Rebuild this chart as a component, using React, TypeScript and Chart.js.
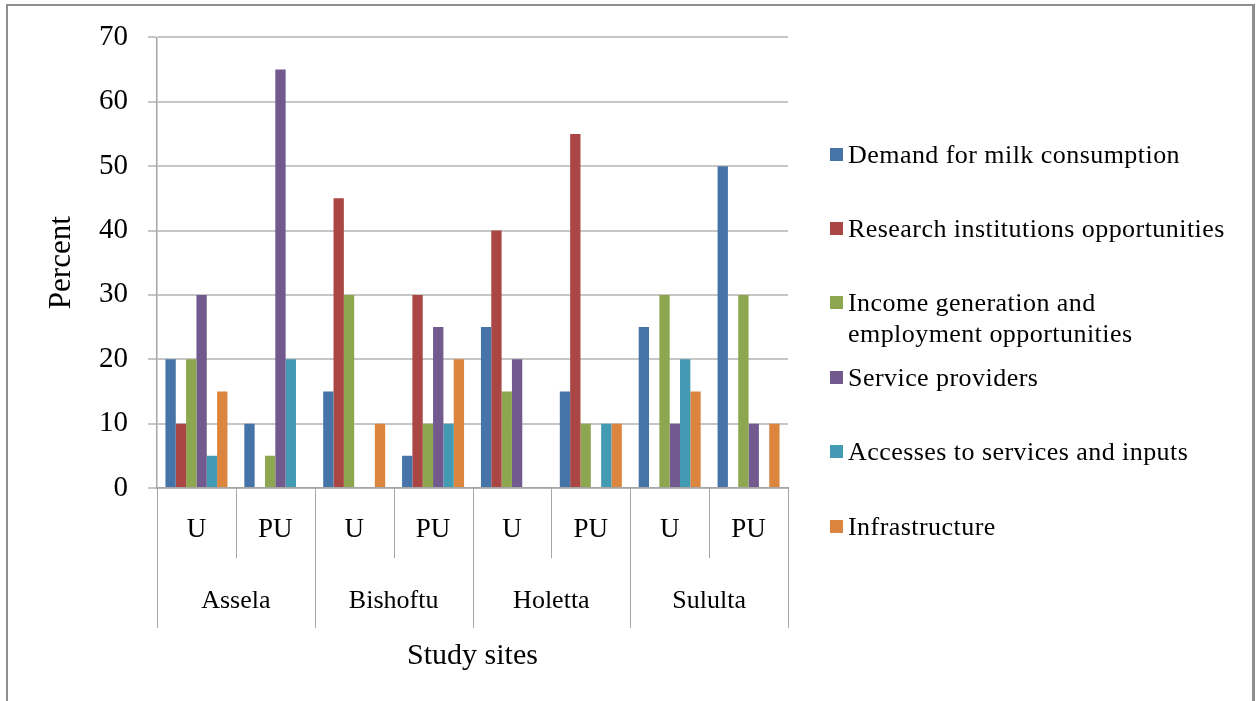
import React, { useEffect, useRef } from "react";
import { Chart, registerables } from "chart.js";

Chart.register(...registerables);

const categories = ["U", "PU", "U", "PU", "U", "PU", "U", "PU"];
const groups = ["Assela", "Bishoftu", "Holetta", "Sululta"];
const seriesNames = [
  "Demand for milk consumption",
  "Research institutions opportunities",
  "Income generation and\nemployment opportunities",
  "Service providers",
  "Accesses to services and inputs",
  "Infrastructure",
];
const demand = [20, 10, 15, 5, 25, 15, 25, 50];
const research = [10, 0, 45, 30, 40, 55, 0, 0];
const income = [20, 5, 30, 10, 15, 10, 30, 30];
const service = [30, 65, 0, 25, 20, 0, 10, 10];
const access = [5, 20, 0, 10, 0, 10, 20, 0];
const infra = [15, 0, 10, 20, 0, 10, 15, 10];
const seriesColors = ["#4674A8", "#AA4744", "#8CA74F", "#725A8F", "#439BB3", "#DC853F"];
const yMin = 0;
const yMax = 70;
const yStep = 10;
const xTitle = "Study sites";
const yTitle = "Percent";

const SERIF = "'Liberation Serif', 'Times New Roman', serif";

const decorPlugin = {
  id: "decor",
  afterDraw(chart: any) {
    const ctx = chart.ctx;
    const x = chart.scales.x;
    const area = chart.chartArea;
    const n = categories.length;
    const w = (x.right - x.left) / n;
    ctx.save();
    ctx.strokeStyle = "#A6A6A6";
    ctx.lineWidth = 1;
    for (let i = 0; i <= n; i++) {
      const px = Math.round(x.left + i * w) + 0.5;
      const end = i % 2 === 0 ? area.bottom + 140 : area.bottom + 70;
      ctx.beginPath();
      ctx.moveTo(px, area.bottom);
      ctx.lineTo(px, end);
      ctx.stroke();
    }
    ctx.fillStyle = "#000";
    ctx.textAlign = "center";
    ctx.textBaseline = "middle";
    ctx.font = `26px ${SERIF}`;
    groups.forEach((g, gi) => {
      const cx = x.left + (gi * 2 + 1) * w;
      ctx.fillText(g, cx, area.bottom + 113);
    });
    ctx.font = `30px ${SERIF}`;
    ctx.fillText(xTitle, (area.left + area.right) / 2, area.bottom + 168);
    ctx.save();
    ctx.translate(62, (area.top + area.bottom) / 2);
    ctx.rotate(-Math.PI / 2);
    ctx.font = `31px ${SERIF}`;
    ctx.fillText(yTitle, 0, 0);
    ctx.restore();
    ctx.restore();
  },
};

export default function App() {
  const ref = useRef<HTMLCanvasElement | null>(null);

  useEffect(() => {
    if (!ref.current) return;
    const values = [demand, research, income, service, access, infra];
    const chart = new Chart(ref.current, {
      type: "bar",
      data: {
        labels: categories,
        datasets: values.map((v, i) => ({
          label: seriesNames[i],
          data: v,
          backgroundColor: seriesColors[i],
          borderWidth: 0,
          categoryPercentage: 0.786,
          barPercentage: 1,
        })),
      },
      options: {
        animation: false,
        responsive: false,
        devicePixelRatio: 1,
        layout: { padding: { left: 0, top: 36, right: 471, bottom: 0 } },
        plugins: {
          legend: { display: false },
          tooltip: { enabled: false },
        },
        scales: {
          x: {
            grid: { display: false },
            border: { display: true, color: "#A6A6A6", width: 1.5 },
            ticks: {
              color: "#000",
              font: { family: SERIF, size: 27 },
              padding: 18,
              maxRotation: 0,
              autoSkip: false,
            },
            afterFit: (s: any) => {
              s.height = 213;
            },
          },
          y: {
            min: yMin,
            max: yMax,
            ticks: {
              stepSize: yStep,
              color: "#000",
              font: { family: SERIF, size: 29 },
              padding: 20,
            },
            grid: {
              color: "#C6C6C6",
              lineWidth: 2,
              tickLength: 9,
              drawTicks: true,
            },
            border: { display: true, color: "#A6A6A6", width: 1.5 },
            afterFit: (s: any) => {
              s.width = 157;
            },
          },
        },
      },
      plugins: [decorPlugin],
    });
    return () => chart.destroy();
  }, []);

  return (
    <div
      style={{
        position: "absolute",
        left: 0,
        top: 0,
        width: 1259,
        height: 701,
        overflow: "hidden",
        background: "#fff",
      }}
    >
      <div
        style={{
          position: "absolute",
          left: 6,
          top: 4,
          width: 1249,
          height: 760,
          border: "2px solid #8E8E8E",
          borderRightWidth: 3,
          boxSizing: "border-box",
        }}
      />
      <canvas ref={ref} width={1259} height={701} style={{ position: "absolute", left: 0, top: 0 }} />
      {seriesNames.map((name, i) => (
        <div
          key={name}
          style={{
            position: "absolute",
            left: 830,
            top: 154 + i * 74.4 - 15.5,
            display: "flex",
            alignItems: "flex-start",
            fontFamily: SERIF,
            fontSize: 26,
            lineHeight: "31px",
            letterSpacing: "0.45px",
            color: "#000",
            whiteSpace: "pre",
          }}
        >
          <span
            style={{
              display: "inline-block",
              width: 13,
              height: 13,
              marginTop: 9,
              marginRight: 5,
              background: seriesColors[i],
            }}
          />
          <span>{name}</span>
        </div>
      ))}
    </div>
  );
}
